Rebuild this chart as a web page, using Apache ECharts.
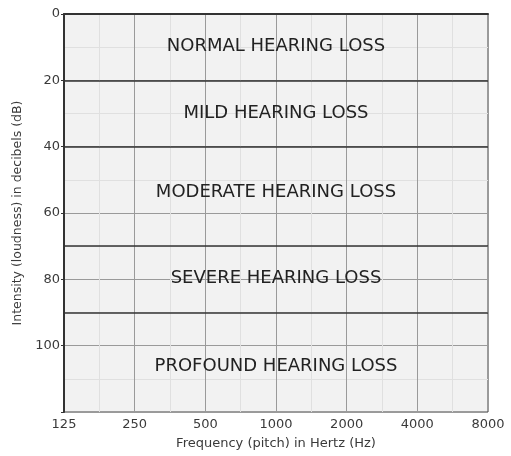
<!DOCTYPE html>
<html>
<head>
<meta charset="utf-8">
<script src="https://cdn.jsdelivr.net/npm/echarts@6/dist/echarts.min.js"></script>
<style>
html,body{margin:0;padding:0;background:#fff;}
#chart{width:511px;height:456px;}
</style>
</head>
<body>
<div id="chart"></div>
<script>
// Data
var freqLabels = ['125', '250', '500', '1000', '2000', '4000', '8000'];
var bandNames = ['NORMAL HEARING LOSS', 'MILD HEARING LOSS', 'MODERATE HEARING LOSS', 'SEVERE HEARING LOSS', 'PROFOUND HEARING LOSS'];
var bandLabelDb = [9.6, 30.0, 53.8, 79.7, 106.3];
var bandBoundaries = [20, 40, 70, 90];

var chart = echarts.init(document.getElementById('chart'), null, {renderer: 'canvas'});
var FONT = 'DejaVu Sans';

var labelData = bandNames.map(function (n, i) { return [3, bandLabelDb[i], n]; });

chart.setOption({
  animation: false,
  backgroundColor: '#ffffff',
  grid: {
    left: 64, right: 23, top: 14, bottom: 44,
    outerBoundsMode: 'none',
    containLabel: false,
    show: true,
    backgroundColor: '#f2f2f2',
    borderColor: '#444',
    borderWidth: 1
  },
  xAxis: {
    type: 'value',
    min: 0, max: freqLabels.length - 1, interval: 1,
    name: 'Frequency (pitch) in Hertz (Hz)',
    nameLocation: 'middle',
    nameGap: 25,
    nameTextStyle: {fontFamily: FONT, fontSize: 13, color: '#3a3a3a'},
    axisLine: {show: true, lineStyle: {color: '#333', width: 2}},
    axisTick: {show: false},
    axisLabel: {
      fontFamily: FONT, fontSize: 13, color: '#3a3a3a', margin: 6,
      formatter: function (v) { return freqLabels[Math.round(v)]; }
    },
    splitLine: {show: true, lineStyle: {color: '#9a9a9a', width: 1}},
    minorTick: {show: false, splitNumber: 2},
    minorSplitLine: {show: true, lineStyle: {color: '#e0e0e0', width: 1}}
  },
  yAxis: {
    type: 'value',
    inverse: true,
    min: 0, max: 120, interval: 20,
    name: 'Intensity (loudness) in decibels (dB)',
    nameLocation: 'middle',
    nameGap: 37,
    nameRotate: 90,
    nameTextStyle: {fontFamily: FONT, fontSize: 12.5, color: '#3a3a3a'},
    axisLine: {show: true, lineStyle: {color: '#333', width: 2}},
    axisTick: {show: true, length: 3, lineStyle: {color: '#333'}},
    axisLabel: {
      fontFamily: FONT, fontSize: 13, color: '#3a3a3a', margin: 4,
      formatter: function (v) { return v >= 120 ? '' : String(v); }
    },
    splitLine: {show: true, lineStyle: {color: '#9a9a9a', width: 1}},
    minorTick: {show: false, splitNumber: 2},
    minorSplitLine: {show: true, lineStyle: {color: '#e0e0e0', width: 1}}
  },
  series: [{
    type: 'scatter',
    data: labelData,
    symbolSize: 0,
    silent: true,
    label: {
      show: true,
      position: 'inside',
      fontFamily: FONT,
      fontSize: 18,
      color: '#222222',
      opacity: 1,
      textBorderWidth: 0,
      formatter: function (p) { return p.data[2]; }
    },
    markLine: {
      silent: true,
      symbol: 'none',
      label: {show: false},
      lineStyle: {color: '#333', width: 1.5, type: 'solid'},
      data: bandBoundaries.map(function (b) { return {yAxis: b}; })
    }
  }]
});
</script>
</body>
</html>
